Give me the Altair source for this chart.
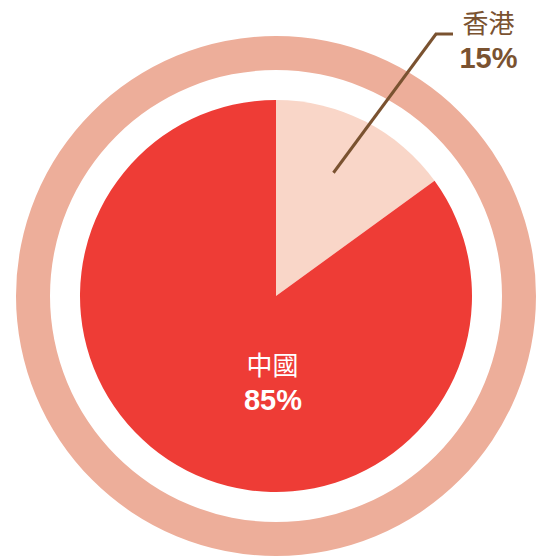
import altair as alt
import pandas as pd
import numpy as np

# data
regions = ["香港", "中國"]
shares = [15, 85]
share_labels = ["15%", "85%"]
colors = ["#F9D6C8", "#EE3C36"]

ring_color = "#EDAE9A"
brown = "#7A5230"
FONT = "Liberation Sans, Noto Sans CJK TC, sans-serif"

W, H = 531, 548
CX, CY = 268, 288
R_PIE = 196

df = pd.DataFrame({"region": regions, "share": shares, "idx": [0, 1]})

ring = alt.Chart(pd.DataFrame({"v": [100]})).mark_arc(
    innerRadius=226, outerRadius=260, color=ring_color
).encode(theta=alt.Theta("v:Q"), x=alt.value(CX), y=alt.value(CY))

pie = alt.Chart(df).mark_arc(radius=R_PIE).encode(
    theta=alt.Theta("share:Q", stack=True),
    color=alt.Color("region:N", scale=alt.Scale(domain=regions, range=colors), legend=None),
    order=alt.Order("idx:Q"),
    x=alt.value(CX), y=alt.value(CY),
)

# leader line for the small slice, starting inside it
ang = np.deg2rad(25)
p0 = (CX + 136 * np.sin(ang), CY - 136 * np.cos(ang))
p1 = (428.0, 26.0)
p2 = (p1[0] + 17, p1[1])

lead1 = alt.Chart(pd.DataFrame({"a": [0]})).mark_rule(color=brown, strokeWidth=3).encode(
    x=alt.value(p0[0]), y=alt.value(p0[1]), x2=alt.value(p1[0]), y2=alt.value(p1[1])
)
lead2 = alt.Chart(pd.DataFrame({"a": [0]})).mark_rule(color=brown, strokeWidth=3).encode(
    x=alt.value(p1[0] - 1), y=alt.value(p1[1]), x2=alt.value(p2[0]), y2=alt.value(p2[1])
)

hk_name = alt.Chart(pd.DataFrame({"t": [regions[0]]})).mark_text(
    font=FONT, fontSize=26, color=brown, align="center", baseline="middle"
).encode(text="t:N", x=alt.value(480.5), y=alt.value(17))
hk_pct = alt.Chart(pd.DataFrame({"t": [share_labels[0]]})).mark_text(
    font=FONT, fontSize=29, fontWeight="bold", color=brown, align="center", baseline="middle"
).encode(text="t:N", x=alt.value(480.5), y=alt.value(51))

cn_name = alt.Chart(pd.DataFrame({"t": [regions[1]]})).mark_text(
    font=FONT, fontSize=26, color="white", align="center", baseline="middle"
).encode(text="t:N", x=alt.value(264.5), y=alt.value(359))
cn_pct = alt.Chart(pd.DataFrame({"t": [share_labels[1]]})).mark_text(
    font=FONT, fontSize=29, fontWeight="bold", color="white", align="center", baseline="middle"
).encode(text="t:N", x=alt.value(265), y=alt.value(393))

chart = alt.layer(ring, pie, lead1, lead2, hk_name, hk_pct, cn_name, cn_pct).properties(
    width=W, height=H, padding=0, autosize=alt.AutoSizeParams(type="none"), background="white"
).configure_view(stroke=None)

chart.save("out.html", embed_options={"renderer": "svg", "actions": False})
